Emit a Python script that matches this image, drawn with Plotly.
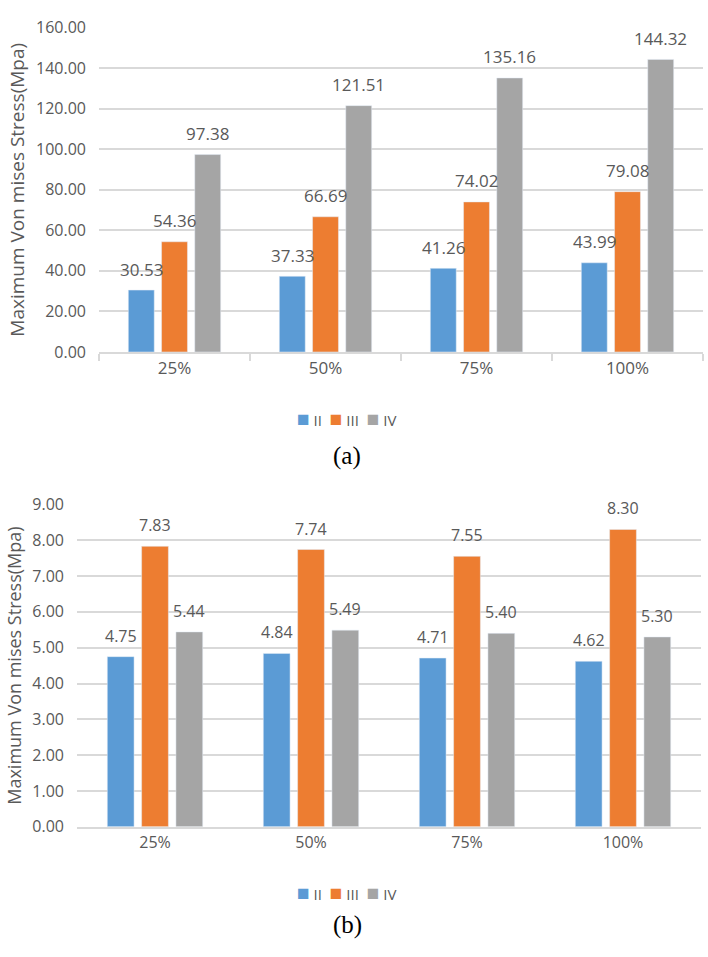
import plotly.graph_objects as go

categories = ["25%", "50%", "75%", "100%"]
series_names = ["II", "III", "IV"]
colors = ["#5B9BD5", "#ED7D31", "#A5A5A5"]

a_II = [30.53, 37.33, 41.26, 43.99]
a_III = [54.36, 66.69, 74.02, 79.08]
a_IV = [97.38, 121.51, 135.16, 144.32]

b_II = [4.75, 4.84, 4.71, 4.62]
b_III = [7.83, 7.74, 7.55, 8.30]
b_IV = [5.44, 5.49, 5.40, 5.30]

y_title = "Maximum Von mises Stress(Mpa)"
panel_labels = ["(a)", "(b)"]

W, H = 708, 957
FONT = "Open Sans"
TXT = "#595959"
GRID = "#D9D9D9"

fig = go.Figure()

panels = [
    dict(data=[a_II, a_III, a_IV], xa="x", ya="y", slot=33.2, fs=17),
    dict(data=[b_II, b_III, b_IV], xa="x2", ya="y2", slot=34.3, fs=16),
]

annotations = []
for p in panels:
    for i, (name, vals, col) in enumerate(zip(series_names, p["data"], colors)):
        fig.add_trace(go.Bar(
            x=categories, y=vals, name=name, marker_color=col,
            xaxis=p["xa"], yaxis=p["ya"], showlegend=False,
        ))
        for c, v in zip(categories, vals):
            annotations.append(dict(
                x=c, y=v, xref=p["xa"], yref=p["ya"], text=f"{v:.2f}",
                showarrow=False, xshift=(i - 1) * p["slot"], yshift=21,
                yanchor="middle", font=dict(family=FONT, size=p["fs"], color=TXT),
            ))

# compact Excel-style legends
legend_text = "&nbsp;&nbsp;".join(
    f"<span style='color:{c};font-size:21px'>■</span> {n}" for n, c in zip(series_names, colors)
)
for yy in [1 - 417 / H, 1 - 902 / H]:
    annotations.append(dict(
        x=346 / W, y=yy, xref="paper", yref="paper", text=legend_text, showarrow=False,
        xanchor="center", yanchor="middle", font=dict(family=FONT, size=15, color=TXT),
    ))

for lbl, yy in zip(panel_labels, [1 - 455 / H, 1 - 935 / H]):
    annotations.append(dict(
        x=347 / W, y=yy, xref="paper", yref="paper", text=lbl, showarrow=False,
        xanchor="center", yanchor="middle",
        font=dict(family="Liberation Serif", size=25, color="#000000"),
    ))

fig.update_layout(
    width=W, height=H, margin=dict(l=0, r=0, t=0, b=0),
    paper_bgcolor="white", plot_bgcolor="white",
    barmode="group", bargap=0.34, bargroupgap=0.22,
    font=dict(family=FONT, color=TXT),
    annotations=annotations,
    showlegend=False,
    xaxis=dict(domain=[99 / W, 703 / W], anchor="y", showgrid=False,
               showline=True, linecolor=GRID, linewidth=1.5,
               ticks="outside", tickson="boundaries", ticklen=7, tickcolor=GRID, tickwidth=1.5,
               tickfont=dict(size=17, color=TXT)),
    yaxis=dict(domain=[1 - 349 / H, 1 - 17 / H], anchor="x", range=[0, 160], dtick=20,
               tickformat=".2f", showgrid=True, gridcolor=GRID, gridwidth=1.5,
               zeroline=False, showline=False, ticklabelstandoff=12,
               tickfont=dict(size=16, color=TXT),
               title=dict(text=y_title, font=dict(size=19, color=TXT), standoff=6)),
    xaxis2=dict(domain=[77 / W, 701 / W], anchor="y2", showgrid=False,
                showline=True, linecolor=GRID, linewidth=1.5, ticks="",
                tickfont=dict(size=16, color=TXT)),
    yaxis2=dict(domain=[1 - 835 / H, 1 - 505 / H], anchor="x2", range=[0, 9], dtick=1,
                tickformat=".2f", showgrid=True, gridcolor=GRID, gridwidth=1.5,
                zeroline=False, showline=False, ticklabelstandoff=12,
                tickfont=dict(size=16, color=TXT),
                title=dict(text=y_title, font=dict(size=18, color=TXT), standoff=6)),
)

fig.write_html(
    "out.html",
    config={"displayModeBar": False},
    post_script="document.body.style.margin='0';document.body.style.padding='0';document.body.style.overflow='hidden';",
)
